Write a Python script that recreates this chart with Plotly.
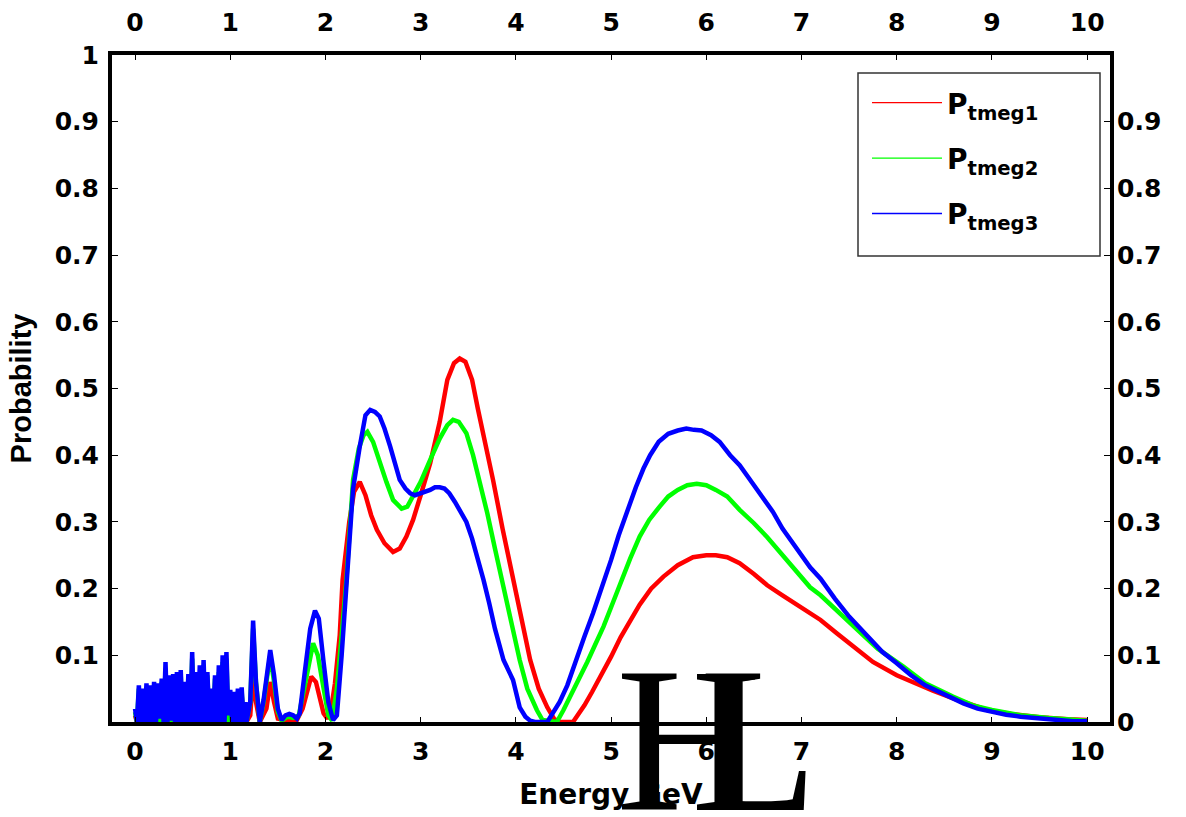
import plotly.graph_objects as go

# ---------------- data ----------------
E_noise = [0.00, 0.02, 0.04, 0.06, 0.08, 0.10, 0.12, 0.14, 0.16, 0.18,
           0.20, 0.22, 0.24, 0.26, 0.28, 0.30, 0.32, 0.34, 0.36, 0.38,
           0.40, 0.42, 0.44, 0.46, 0.48, 0.50, 0.52, 0.54, 0.56, 0.58,
           0.60, 0.62, 0.64, 0.66, 0.68, 0.70, 0.72, 0.74, 0.76, 0.78,
           0.80, 0.82, 0.84, 0.86, 0.88, 0.90, 0.92, 0.94, 0.96, 0.98,
           1.00, 1.02, 1.04, 1.06, 1.08, 1.10, 1.12, 1.14, 1.16]

blue_noise = [0.02, 0.0, 0.055, 0.0, 0.05, 0.0, 0.058, 0.0, 0.055, 0.0,
              0.06, 0.0, 0.058, 0.005, 0.065, 0.0, 0.09, 0.0, 0.07, 0.002,
              0.072, 0.0, 0.075, 0.0, 0.078, 0.0, 0.06, 0.0, 0.072, 0.0,
              0.105, 0.0, 0.075, 0.0, 0.085, 0.0, 0.093, 0.0, 0.075, 0.0,
              0.05, 0.0, 0.07, 0.0, 0.085, 0.0, 0.1, 0.0, 0.105, 0.01,
              0.048, 0.0, 0.045, 0.0, 0.05, 0.0, 0.052, 0.0, 0.03]

green_noise = [0.015, 0.0, 0.05, 0.0, 0.045, 0.0, 0.05, 0.0, 0.05, 0.0,
               0.055, 0.0, 0.05, 0.0, 0.06, 0.0, 0.08, 0.0, 0.065, 0.0,
               0.065, 0.0, 0.07, 0.0, 0.07, 0.0, 0.055, 0.0, 0.065, 0.0,
               0.095, 0.0, 0.07, 0.0, 0.075, 0.0, 0.085, 0.0, 0.07, 0.0,
               0.045, 0.0, 0.065, 0.0, 0.075, 0.0, 0.09, 0.0, 0.095, 0.0,
               0.04, 0.0, 0.04, 0.0, 0.045, 0.0, 0.045, 0.0, 0.025]

red_noise = [0.01, 0.0, 0.03, 0.0, 0.025, 0.0, 0.03, 0.0, 0.03, 0.0,
             0.035, 0.0, 0.03, 0.0, 0.04, 0.0, 0.05, 0.0, 0.04, 0.0,
             0.04, 0.0, 0.045, 0.0, 0.045, 0.0, 0.035, 0.0, 0.04, 0.0,
             0.06, 0.0, 0.045, 0.0, 0.05, 0.0, 0.055, 0.0, 0.045, 0.0,
             0.03, 0.0, 0.04, 0.0, 0.05, 0.0, 0.06, 0.0, 0.065, 0.0,
             0.03, 0.0, 0.035, 0.0, 0.04, 0.0, 0.04, 0.0, 0.02]

E_red = [1.17, 1.21, 1.24, 1.27, 1.31, 1.38, 1.42, 1.46, 1.50, 1.60,
         1.70, 1.76, 1.82, 1.85, 1.90, 1.95, 1.98, 2.02, 2.06, 2.10,
         2.15, 2.18, 2.25, 2.30, 2.36, 2.42, 2.48, 2.54, 2.62, 2.71,
         2.78, 2.85, 2.92, 3.00, 3.10, 3.20, 3.28, 3.35, 3.41, 3.47,
         3.54, 3.60, 3.68, 3.76, 3.86, 3.97, 4.06, 4.15, 4.24, 4.33,
         4.40, 4.45, 4.60, 4.64, 4.72, 4.80, 4.90, 5.00, 5.10, 5.20,
         5.30, 5.42, 5.55, 5.70, 5.86, 6.00, 6.10, 6.22, 6.35, 6.50,
         6.64, 6.80, 6.99, 7.20, 7.37, 7.50, 7.62, 7.75, 8.00, 8.20,
         8.38, 8.60, 8.80, 8.95, 9.20, 9.50, 9.80, 10.00]
P_red = [0.0, 0.01, 0.073, 0.03, 0.0, 0.02, 0.06, 0.03, 0.005, 0.002,
         0.003, 0.02, 0.055, 0.068, 0.06, 0.03, 0.013, 0.005, 0.02, 0.058,
         0.13, 0.213, 0.30, 0.345, 0.36, 0.34, 0.31, 0.288, 0.268, 0.255,
         0.26, 0.278, 0.303, 0.34, 0.388, 0.45, 0.513, 0.538, 0.545, 0.54,
         0.513, 0.47, 0.42, 0.363, 0.29, 0.217, 0.15, 0.093, 0.05, 0.022,
         0.005, 0.0, 0.0, 0.008, 0.025, 0.045, 0.07, 0.098, 0.127, 0.152,
         0.176, 0.20, 0.218, 0.235, 0.247, 0.25, 0.25, 0.247, 0.238, 0.222,
         0.205, 0.19, 0.172, 0.153, 0.133, 0.118, 0.105, 0.09, 0.07, 0.057,
         0.047, 0.035, 0.025, 0.018, 0.012, 0.007, 0.004, 0.003]

E_green = [1.17, 1.21, 1.24, 1.27, 1.31, 1.35, 1.38, 1.42, 1.46, 1.50,
           1.54, 1.60, 1.66, 1.72, 1.79, 1.84, 1.87, 1.92, 1.98, 2.03,
           2.07, 2.12, 2.17, 2.22, 2.29, 2.35, 2.40, 2.44, 2.50, 2.57,
           2.64, 2.71, 2.80, 2.86, 2.92, 3.00, 3.10, 3.20, 3.28, 3.34,
           3.40, 3.48, 3.55, 3.62, 3.70, 3.78, 3.85, 3.95, 4.04, 4.12,
           4.22, 4.28, 4.43, 4.50, 4.58, 4.67, 4.75, 4.83, 4.92, 5.00,
           5.10, 5.20, 5.30, 5.40, 5.51, 5.60, 5.70, 5.80, 5.90, 6.00,
           6.10, 6.22, 6.35, 6.50, 6.64, 6.80, 6.95, 7.09, 7.20, 7.35,
           7.50, 7.62, 7.80, 8.07, 8.30, 8.59, 8.80, 9.00, 9.30, 9.60,
           9.80, 10.00]
P_green = [0.0, 0.03, 0.14, 0.06, 0.0, 0.03, 0.06, 0.1, 0.06, 0.015,
           0.002, 0.008, 0.006, 0.01, 0.06, 0.1, 0.118, 0.1, 0.05, 0.01,
           0.002, 0.05, 0.13, 0.213, 0.363, 0.41, 0.43, 0.435, 0.42, 0.388,
           0.36, 0.333, 0.32, 0.323, 0.338, 0.36, 0.393, 0.425, 0.445, 0.453,
           0.45, 0.433, 0.40, 0.36, 0.313, 0.26, 0.213, 0.15, 0.093, 0.05,
           0.018, 0.003, 0.0, 0.018, 0.04, 0.065, 0.09, 0.115, 0.143, 0.172,
           0.21, 0.245, 0.278, 0.303, 0.323, 0.338, 0.348, 0.355, 0.357, 0.355,
           0.348, 0.338, 0.318, 0.298, 0.277, 0.25, 0.225, 0.202, 0.19, 0.17,
           0.15, 0.133, 0.11, 0.083, 0.058, 0.038, 0.025, 0.018, 0.01, 0.006,
           0.004, 0.002]

E_blue = [1.17, 1.21, 1.24, 1.27, 1.31, 1.35, 1.38, 1.42, 1.46, 1.50,
          1.54, 1.58, 1.62, 1.66, 1.70, 1.73, 1.79, 1.84, 1.89, 1.93,
          1.98, 2.03, 2.08, 2.12, 2.17, 2.22, 2.29, 2.36, 2.42, 2.47,
          2.52, 2.57, 2.62, 2.68, 2.73, 2.78, 2.84, 2.89, 2.94, 2.99,
          3.05, 3.10, 3.15, 3.20, 3.25, 3.30, 3.36, 3.42, 3.48, 3.54,
          3.60, 3.66, 3.72, 3.78, 3.87, 3.97, 4.04, 4.10, 4.15, 4.20,
          4.33, 4.39, 4.46, 4.54, 4.64, 4.72, 4.81, 4.90, 5.00, 5.08,
          5.17, 5.26, 5.34, 5.41, 5.50, 5.60, 5.70, 5.79, 5.87, 5.95,
          6.05, 6.14, 6.25, 6.35, 6.45, 6.57, 6.70, 6.80, 6.90, 7.00,
          7.09, 7.20, 7.35, 7.50, 7.62, 7.72, 7.85, 8.00, 8.15, 8.30,
          8.45, 8.55, 8.70, 8.85, 9.00, 9.15, 9.30, 9.50, 9.70, 9.85,
          10.00]
P_blue = [0.0, 0.03, 0.152, 0.06, 0.0, 0.033, 0.07, 0.108, 0.07, 0.02,
          0.003, 0.01, 0.012, 0.01, 0.005, 0.013, 0.083, 0.14, 0.167, 0.155,
          0.09, 0.03, 0.003, 0.01, 0.1, 0.213, 0.35, 0.413, 0.46, 0.468,
          0.465, 0.458, 0.44, 0.413, 0.388, 0.363, 0.35, 0.343, 0.34, 0.342,
          0.345, 0.348, 0.352, 0.352, 0.35, 0.343, 0.33, 0.315, 0.30, 0.275,
          0.245, 0.213, 0.178, 0.14, 0.093, 0.063, 0.022, 0.008, 0.002, 0.0,
          0.0, 0.013, 0.03, 0.055, 0.093, 0.128, 0.163, 0.20, 0.243, 0.28,
          0.318, 0.352, 0.38, 0.40, 0.42, 0.432, 0.437, 0.44, 0.438, 0.437,
          0.43, 0.42, 0.40, 0.385, 0.365, 0.342, 0.315, 0.29, 0.27, 0.25,
          0.232, 0.215, 0.185, 0.158, 0.14, 0.125, 0.105, 0.088, 0.07, 0.055,
          0.045, 0.038, 0.028, 0.02, 0.015, 0.011, 0.008, 0.005, 0.002, 0.001,
          0.001]

series_names = ["P<sub>tmeg1</sub>", "P<sub>tmeg2</sub>", "P<sub>tmeg3</sub>"]
series_colors = ["#FF0000", "#00FF00", "#0000FF"]

x_ticks = [0, 1, 2, 3, 4, 5, 6, 7, 8, 9, 10]
y_left_ticks = [0.1, 0.2, 0.3, 0.4, 0.5, 0.6, 0.7, 0.8, 0.9, 1.0]
y_left_labels = ["0.1", "0.2", "0.3", "0.4", "0.5", "0.6", "0.7", "0.8", "0.9", "1"]
y_right_ticks = [0, 0.1, 0.2, 0.3, 0.4, 0.5, 0.6, 0.7, 0.8, 0.9]
y_right_labels = ["0", "0.1", "0.2", "0.3", "0.4", "0.5", "0.6", "0.7", "0.8", "0.9"]

# ---------------- figure ----------------
FONT = "DejaVu Sans"
fig = go.Figure()

xs = [E_noise + E_red, E_noise + E_green, E_noise + E_blue]
ys = [red_noise + P_red, green_noise + P_green, blue_noise + P_blue]

for x, y, c in zip(xs, ys, series_colors):
    fig.add_trace(go.Scatter(x=x, y=y, mode="lines",
                             line=dict(color=c, width=4.5), showlegend=False,
                             hoverinfo="skip"))

# thin legend samples
for i, (n, c) in enumerate(zip(series_names, series_colors)):
    fig.add_trace(go.Scatter(x=[None], y=[None], mode="lines", name=n,
                             line=dict(color=c, width=1.3),
                             legendgroup=f"g{i}", showlegend=True))

# helper trace for top and right tick labels
fig.add_trace(go.Scatter(x=[None], y=[None], xaxis="x2", yaxis="y2",
                         showlegend=False, hoverinfo="skip"))

tick_font = dict(family=FONT, size=25, color="black", weight="bold")

fig.update_layout(
    width=1186, height=817,
    margin=dict(l=112, r=76, t=55, b=95, autoexpand=False),
    paper_bgcolor="white", plot_bgcolor="white",
    font=dict(family=FONT, color="black"),
    xaxis=dict(range=[-0.242, 10.24], tickvals=x_ticks, automargin=False,
               ticks="inside", ticklen=5, tickwidth=1, tickcolor="black",
               showline=True, linewidth=4, linecolor="black", mirror="ticks",
               showgrid=False, zeroline=False, ticklabelstandoff=4,
               tickfont=tick_font,
               title=dict(text="<b>Energy GeV</b>",
                          font=dict(family=FONT, size=28, color="black"),
                          standoff=20)),
    xaxis2=dict(overlaying="x", side="top", matches="x", range=[-0.242, 10.24],
                tickvals=x_ticks, ticks="", showline=False, showgrid=False,
                automargin=False,
                zeroline=False, ticklabelstandoff=18, tickfont=tick_font),
    yaxis=dict(range=[0, 1], tickvals=y_left_ticks, ticktext=y_left_labels,
               ticks="inside", ticklen=6, tickwidth=1, tickcolor="black",
               showline=True, linewidth=4, linecolor="black", mirror="ticks",
               showgrid=False, zeroline=False, ticklabelstandoff=4,
               automargin=False, tickfont=tick_font,
               title=dict(text="<b>Probability</b>",
                          font=dict(family="Liberation Sans", size=29, color="black"),
                          standoff=16)),
    yaxis2=dict(overlaying="y", side="right", matches="y", range=[0, 1],
                tickvals=y_right_ticks, ticktext=y_right_labels, ticks="",
                showline=False, showgrid=False, zeroline=False,
                automargin=False, ticklabelstandoff=6, tickfont=tick_font),
    legend=dict(x=(867 - 112) / 998, y=(722 - 78) / 667, xanchor="left", yanchor="top",
                bgcolor="rgba(0,0,0,0)", borderwidth=0,
                font=dict(family=FONT, size=28, color="black", weight="bold"),
                tracegroupgap=16, itemwidth=70),
    shapes=[dict(type="rect", xref="paper", yref="paper",
                 x0=(858 - 112) / 998, x1=(1100 - 112) / 998,
                 y0=(722 - 256) / 667, y1=(722 - 73) / 667,
                 line=dict(color="#333333", width=1.5), fillcolor="rgba(0,0,0,0)")],
    annotations=[
        dict(text="H", xref="paper", yref="paper", x=(614 - 112) / 998, y=-0.027,
             xanchor="left", yanchor="middle", showarrow=False,
             font=dict(family="Liberation Serif", size=208, color="black")),
        dict(text="L", xref="paper", yref="paper", x=(689 - 112) / 998, y=-0.027,
             xanchor="left", yanchor="middle", showarrow=False,
             font=dict(family="Liberation Serif", size=208, color="black")),
    ],
)

fig.write_html("out.html")
